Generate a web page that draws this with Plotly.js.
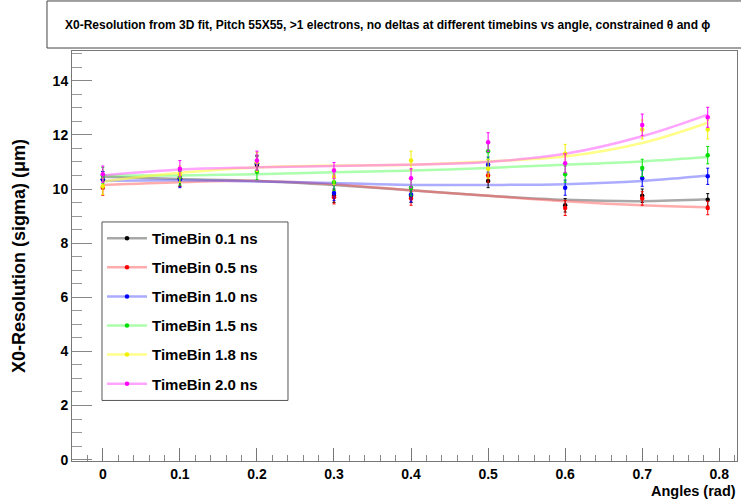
<!DOCTYPE html>
<html><head><meta charset="utf-8">
<script src="https://cdn.plot.ly/plotly-3.0.1.min.js"></script>
<style>html,body{margin:0;padding:0;background:#fff}#chart{width:741px;height:504px}</style>
</head><body><div id="chart"></div>
<script>
const angles = [0, 0.1, 0.2, 0.3, 0.4, 0.5, 0.6, 0.7, 0.785];
const xTicks = [0, 0.1, 0.2, 0.3, 0.4, 0.5, 0.6, 0.7, 0.8];
const names = ['TimeBin 0.1 ns', 'TimeBin 0.5 ns', 'TimeBin 1.0 ns', 'TimeBin 1.5 ns', 'TimeBin 1.8 ns', 'TimeBin 2.0 ns'];

const res01 = [10.35, 10.4, 10.9, 9.75, 9.75, 10.3, 9.4, 9.75, 9.6];
const err01 = [0.3, 0.3, 0.3, 0.25, 0.25, 0.25, 0.25, 0.25, 0.23];
const fit01 = [10.45, 10.37, 10.3, 10.15, 9.95, 9.75, 9.6, 9.55, 9.62];

const res05 = [10.05, 10.4, 10.95, 9.7, 9.65, 10.5, 9.3, 9.65, 9.3];
const err05 = [0.28, 0.3, 0.3, 0.25, 0.25, 0.25, 0.28, 0.25, 0.25];
const fit05 = [10.15, 10.25, 10.3, 10.18, 9.95, 9.75, 9.55, 9.4, 9.33];

const res10 = [10.35, 10.35, 10.95, 9.85, 9.8, 10.9, 10.05, 10.4, 10.47];
const err10 = [0.3, 0.3, 0.3, 0.28, 0.28, 0.28, 0.28, 0.3, 0.3];
const fit10 = [10.3, 10.32, 10.28, 10.22, 10.15, 10.15, 10.18, 10.3, 10.5];

const res15 = [10.5, 10.45, 10.65, 10.25, 10.05, 11.4, 10.55, 10.78, 11.25];
const err15 = [0.3, 0.3, 0.3, 0.3, 0.3, 0.3, 0.3, 0.32, 0.32];
const fit15 = [10.5, 10.5, 10.55, 10.62, 10.68, 10.78, 10.9, 11.02, 11.18];

const res18 = [10.1, 10.55, 11.0, 10.45, 11.05, 10.75, 11.3, 12.2, 12.2];
const err18 = [0.3, 0.3, 0.35, 0.3, 0.35, 0.35, 0.35, 0.35, 0.35];
const fit18 = [10.28, 10.6, 10.8, 10.87, 10.9, 11.02, 11.2, 11.7, 12.45];

const res20 = [10.55, 10.75, 11.05, 10.68, 10.4, 11.73, 10.95, 12.37, 12.65];
const err20 = [0.3, 0.3, 0.35, 0.3, 0.35, 0.35, 0.35, 0.4, 0.37];
const fit20 = [10.5, 10.72, 10.8, 10.85, 10.9, 11.0, 11.3, 11.95, 12.75];

const resAll = [res01, res05, res10, res15, res18, res20];
const errAll = [err01, err05, err10, err15, err18, err20];
const fitAll = [fit01, fit05, fit10, fit15, fit18, fit20];
const markerColors = ['#000000', '#ff0000', '#0000ff', '#00e000', '#f0f000', '#ff00ff'];
const lineColors = ['rgba(110,110,110,0.6)', 'rgba(255,90,90,0.5)', 'rgba(90,90,255,0.5)', 'rgba(90,255,90,0.5)', 'rgba(255,255,60,0.6)', 'rgba(255,90,255,0.55)'];

const font = 'Liberation Sans, Arial, Helvetica, sans-serif';
const traces = [];
for (let i = 0; i < names.length; i++) {
  traces.push({
    x: angles, y: fitAll[i], type: 'scatter', mode: 'lines',
    line: {color: lineColors[i], width: 2.5, shape: 'spline', smoothing: 1},
    showlegend: false, hoverinfo: 'skip'
  });
}
for (let i = 0; i < names.length; i++) {
  traces.push({
    x: angles, y: resAll[i], type: 'scatter', mode: 'markers',
    marker: {color: markerColors[i], size: 4.5},
    error_y: {type: 'data', array: errAll[i], visible: true, color: markerColors[i], thickness: 1, width: 1.5},
    showlegend: false
  });
}
for (let i = 0; i < names.length; i++) {
  traces.push({
    x: [null], y: [null], type: 'scatter', mode: 'lines+markers', name: names[i],
    line: {color: lineColors[i], width: 2.5},
    marker: {color: markerColors[i], size: 4.5},
    legendgroup: 'g' + i
  });
}

const layout = {
  width: 741, height: 504,
  margin: {l: 72, r: 4, t: 51, b: 43},
  paper_bgcolor: '#fff', plot_bgcolor: '#fff',
  showlegend: true,
  xaxis: {
    range: [-0.04, 0.823], tickvals: xTicks, ticktext: xTicks.map(String),
    ticks: 'inside', ticklen: 13, tickcolor: '#777', tickwidth: 1,
    showline: true, linecolor: '#777', linewidth: 1, mirror: true,
    zeroline: false, showgrid: false,
    tickfont: {family: font, size: 14, weight: 'bold', color: '#000'},
    minor: {dtick: 0.02, tick0: 0, ticks: 'inside', ticklen: 6, tickcolor: '#888', showgrid: false}
  },
  yaxis: {
    range: [-0.05, 15.1], tick0: 0, dtick: 2,
    ticks: 'inside', ticklen: 20, tickcolor: '#888', tickwidth: 1,
    showline: true, linecolor: '#777', linewidth: 1, mirror: true,
    zeroline: false, showgrid: false,
    tickfont: {family: font, size: 14, weight: 'bold', color: '#000'},
    minor: {dtick: 0.5, ticks: 'inside', ticklen: 10, tickcolor: '#999', showgrid: false},
    title: {text: 'X0-Resolution (sigma) (\u03bcm)', font: {family: font, size: 18, weight: 'bold', color: '#000'}, standoff: 22}
  },
  legend: {
    x: 0.0451, y: 0.583, xanchor: 'left', yanchor: 'top',
    bordercolor: 'rgba(0,0,0,0)', borderwidth: 0, bgcolor: 'rgba(0,0,0,0)',
    font: {family: font, size: 15, weight: 'bold', color: '#000'},
    tracegroupgap: 6.6, itemwidth: 40
  },
  shapes: [
    {type: 'rect', xref: 'paper', yref: 'paper', x0: -0.0376, x1: 1.03, y0: 1.0073, y1: 1.122,
     line: {color: '#444', width: 1}, fillcolor: '#fff'},
    {type: 'rect', xref: 'paper', yref: 'paper', layer: 'below', x0: 0.0451, x1: 0.3248, y0: 0.1477, y1: 0.583,
     line: {color: '#555', width: 1}, fillcolor: '#fff'}
  ],
  annotations: [
    {xref: 'paper', yref: 'paper', x: 0.4744, y: 1.063, xanchor: 'center', yanchor: 'middle', showarrow: false,
     text: 'X0-Resolution from 3D fit, Pitch 55X55, >1 electrons, no deltas at different timebins vs angle, constrained \u03b8 and \u03d5',
     font: {family: font, size: 12, weight: 'bold', color: '#000'}},
    {xref: 'paper', yref: 'paper', x: 1.0015, y: -0.073, xanchor: 'right', yanchor: 'middle', showarrow: false,
     text: 'Angles (rad)', font: {family: font, size: 14.5, weight: 'bold', color: '#000'}}
  ]
};
Plotly.newPlot('chart', traces, layout, {displayModeBar: false, staticPlot: true});
</script></body></html>
